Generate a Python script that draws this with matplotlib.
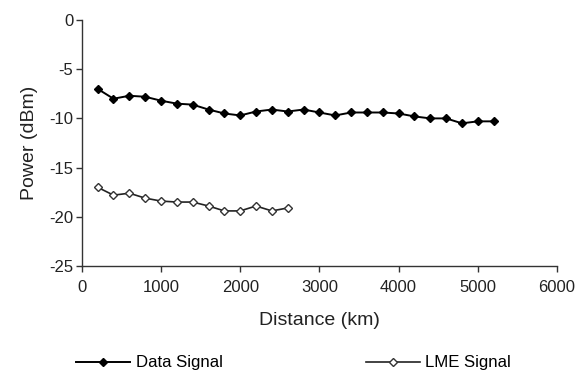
import numpy as np
import matplotlib
matplotlib.use("Agg")
import matplotlib.pyplot as plt

plt.rcParams['font.family'] = ['Liberation Sans', 'DejaVu Sans']
plt.rcParams['axes.unicode_minus'] = False

# distances (km) and powers (dBm)
data_km = [200, 400, 600, 800, 1000, 1200, 1400, 1600, 1800, 2000, 2200, 2400, 2600,
           2800, 3000, 3200, 3400, 3600, 3800, 4000, 4200, 4400, 4600, 4800, 5000, 5200]
data_dbm = [-7.0, -8.0, -7.7, -7.8, -8.2, -8.5, -8.6, -9.1, -9.5, -9.7, -9.3, -9.1, -9.3,
            -9.1, -9.4, -9.7, -9.4, -9.4, -9.4, -9.5, -9.8, -10.0, -10.0, -10.5, -10.3, -10.3]

lme_km = [200, 400, 600, 800, 1000, 1200, 1400, 1600, 1800, 2000, 2200, 2400, 2600]
lme_dbm = [-17.0, -17.8, -17.6, -18.1, -18.4, -18.5, -18.5, -18.9, -19.4, -19.4, -18.9, -19.4, -19.1]

fig = plt.figure(figsize=(5.76, 3.70), dpi=100)
ax = fig.add_axes([0.142, 0.281, 0.825, 0.665])

ax.plot(data_km, data_dbm, color='black', lw=1.4, marker='D', ms=3.6,
        mfc='black', mec='black', mew=1.0, label='Data Signal')
ax.plot(lme_km, lme_dbm, color='#222222', lw=1.2, marker='D', ms=3.6,
        mfc='white', mec='#333333', mew=1.0, label='LME Signal')

ax.set_xlim(0, 6000)
ax.set_ylim(-25, 0)
ax.set_xticks(np.arange(0, 6001, 1000))
ax.set_yticks(np.arange(-25, 1, 5))
for s in ['top', 'right']:
    ax.spines[s].set_visible(False)
for s in ['left', 'bottom']:
    ax.spines[s].set_color('#333333')
    ax.spines[s].set_linewidth(1.0)
ax.tick_params(direction='out', length=4, width=1.0, color='#333333',
               labelsize=12, labelcolor='#222222')
ax.tick_params(axis='x', pad=6)
ax.tick_params(axis='y', pad=2)
ax.set_xlabel('Distance (km)', fontsize=14, color='#222222', labelpad=12)
ax.set_ylabel('Power (dBm)', fontsize=14, color='#222222', labelpad=8)

fig.legend(loc='center', bbox_to_anchor=(0.510, 0.019), ncol=2, frameon=False,
           fontsize=12.1, handlelength=3.2, handletextpad=0.35, columnspacing=8.5)

fig.savefig('out.png', dpi=100)
